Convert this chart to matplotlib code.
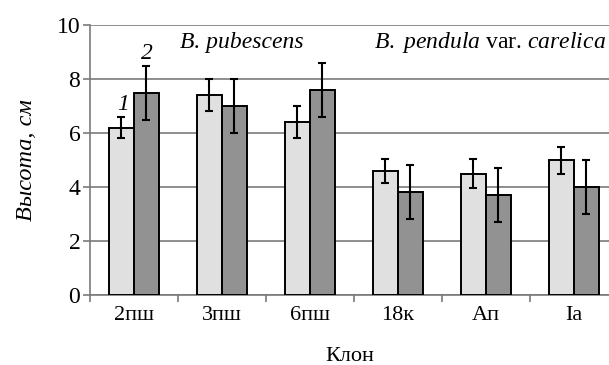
import matplotlib
matplotlib.use("Agg")
import matplotlib.pyplot as plt
import numpy as np

categories = ["2пш", "3пш", "6пш", "18к", "Ап", "Ia"]
series1 = [6.2, 7.4, 6.4, 4.6, 4.5, 5.0]
err1 = [0.4, 0.6, 0.6, 0.45, 0.55, 0.5]
series2 = [7.5, 7.0, 7.6, 3.8, 3.7, 4.0]
err2 = [1.0, 1.0, 1.0, 1.0, 1.0, 1.0]
yticks = [0, 2, 4, 6, 8, 10]

plt.rcParams['font.family'] = 'serif'
plt.rcParams['font.serif'] = ['Liberation Serif', 'DejaVu Serif']
plt.rcParams['mathtext.fontset'] = 'custom'
plt.rcParams['mathtext.rm'] = 'Liberation Serif'
plt.rcParams['mathtext.it'] = 'Liberation Serif:italic'

fig = plt.figure(figsize=(6.09, 3.65), dpi=100)
ax = fig.add_axes([90/609, 70/365, 1 - 90/609, 270/365])

x = np.arange(len(categories))
w = 0.284
ax.bar(x - w/2, series1, w, color="#e0e0e0", edgecolor="black", linewidth=1.4, zorder=3)
ax.bar(x + w/2, series2, w, color="#929292", edgecolor="black", linewidth=1.4, zorder=3)
ax.errorbar(x - w/2, series1, yerr=err1, fmt="none", ecolor="black", elinewidth=1.5,
            capsize=3, capthick=1.5, zorder=4)
ax.errorbar(x + w/2, series2, yerr=err2, fmt="none", ecolor="black", elinewidth=1.5,
            capsize=3, capthick=1.5, zorder=4)

ax.set_xlim(-0.5, 5.4)
ax.set_ylim(0, 10)
ax.set_yticks(yticks)
ax.yaxis.grid(True, color="#7a7a7a", linewidth=1.2, zorder=0)
ax.set_axisbelow(True)
ax.set_xticks(x)
ax.set_xticklabels(categories)
ax.set_xticks(np.arange(-0.5, 5.5, 1.0), minor=True)
ax.tick_params(axis="x", which="major", length=0, labelsize=16, pad=8)
ax.tick_params(axis="x", which="minor", length=5, width=1.2, color="#7a7a7a", direction="out")
ax.tick_params(axis="y", length=5, width=1.2, color="#7a7a7a", labelsize=17, pad=2)

for s in ["top", "right"]:
    ax.spines[s].set_visible(False)
for s in ["left", "bottom"]:
    ax.spines[s].set_color("#7a7a7a")
    ax.spines[s].set_linewidth(1.2)

ax.set_xlabel("Клон", fontsize=16, labelpad=16)
ax.set_ylabel("Высота, см", fontsize=17.5, style="italic", labelpad=14)

ax.text(-0.125, 7.07, "1", style="italic", fontsize=17, ha="center", va="center")
ax.text(0.15, 8.96, "2", style="italic", fontsize=17, ha="center", va="center")
ax.text(1.23, 9.37, "B. pubescens", style="italic", fontsize=17, ha="center", va="center")
ax.text(5.37, 9.37, r"$\mathit{B.\ pendula}$ var. $\mathit{carelica}$", fontsize=17,
        ha="right", va="center")

fig.savefig("out.png", dpi=100)
